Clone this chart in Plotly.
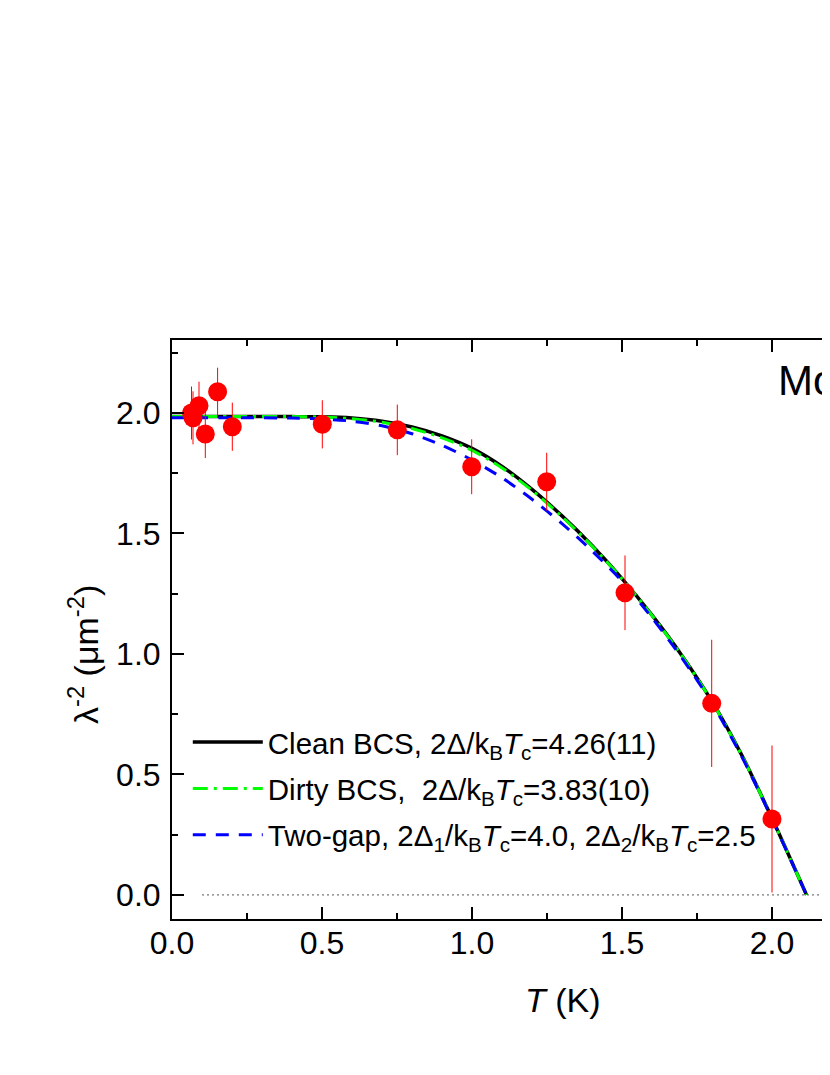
import plotly.graph_objects as go

# ---------------- data ----------------
T_data = [0.065, 0.07, 0.09, 0.111, 0.152, 0.201, 0.501, 0.751, 0.999, 1.249, 1.51, 1.799, 2.0, 2.2]
lam_data = [2.00, 1.98, 2.03, 1.913, 2.088, 1.943, 1.953, 1.93, 1.777, 1.715, 1.254, 0.795, 0.315, 0.0]
lam_err = [0.11, 0.11, 0.10, 0.10, 0.10, 0.10, 0.10, 0.105, 0.114, 0.12, 0.155, 0.264, 0.305, 0.0]

T_curve = [0.0, 0.2, 0.4, 0.5, 0.6, 0.7, 0.8, 0.9, 1.0, 1.1, 1.2, 1.3, 1.4, 1.5, 1.6, 1.7, 1.8, 1.9, 2.0, 2.115]
clean_bcs = [1.985, 1.985, 1.985, 1.984, 1.979, 1.966, 1.942, 1.905, 1.853, 1.778, 1.683, 1.573, 1.450, 1.313, 1.161, 0.993, 0.803, 0.578, 0.318, 0.0]
dirty_bcs = [1.985, 1.985, 1.985, 1.983, 1.976, 1.962, 1.936, 1.897, 1.845, 1.772, 1.679, 1.570, 1.448, 1.312, 1.160, 0.992, 0.802, 0.577, 0.317, 0.0]
two_gap = [1.980, 1.980, 1.979, 1.975, 1.966, 1.947, 1.914, 1.866, 1.805, 1.731, 1.642, 1.541, 1.428, 1.302, 1.150, 0.983, 0.795, 0.572, 0.315, 0.0]

zero_T = [0.1, 2.6]
zero_y = [0.0, 0.0]

legend_names = [
    "Clean BCS, 2Δ/k<sub>B</sub><i>T</i><sub>c</sub>=4.26(11)",
    "Dirty BCS,  2Δ/k<sub>B</sub><i>T</i><sub>c</sub>=3.83(10)",
    "Two-gap, 2Δ<sub>1</sub>/k<sub>B</sub><i>T</i><sub>c</sub>=4.0, 2Δ<sub>2</sub>/k<sub>B</sub><i>T</i><sub>c</sub>=2.5",
]

FONT = "Liberation Sans, Arial, sans-serif"

fig = go.Figure()

fig.add_trace(go.Scatter(x=zero_T, y=zero_y, mode="lines", showlegend=False,
                         line=dict(color="#555555", width=1, dash="2px,3px"), hoverinfo="skip"))

fig.add_trace(go.Scatter(x=T_curve, y=clean_bcs, mode="lines", name=legend_names[0], legendgroup="a",
                         line=dict(color="black", width=3.5, shape="spline", smoothing=0.8)))
fig.add_trace(go.Scatter(x=T_curve, y=dirty_bcs, mode="lines", name=legend_names[1], legendgroup="b",
                         line=dict(color="#00FF00", width=3, dash="15px,6px,3px,6px", shape="spline", smoothing=0.8)))
fig.add_trace(go.Scatter(x=T_curve, y=two_gap, mode="lines", name=legend_names[2], legendgroup="c",
                         line=dict(color="#0000FF", width=3, dash="13px,10px", shape="spline", smoothing=0.8)))

fig.add_trace(go.Scatter(x=T_data, y=lam_data, mode="markers", showlegend=False,
                         marker=dict(color="#FF0000", size=19, line=dict(width=0)),
                         error_y=dict(type="data", array=lam_err, color="#FF0000", thickness=1, width=0)))

# page body has an 8px margin: figure is sized/offset so the plot sits where the reference has it
fig.update_layout(
    width=822, height=1040, autosize=False,
    margin=dict(l=164, r=0, t=332, b=129),
    plot_bgcolor="white", paper_bgcolor="white",
    font=dict(family=FONT, color="black", size=32),
    showlegend=True,
    legend=dict(x=0.024, y=0.35, xanchor="left", yanchor="top",
                bgcolor="rgba(0,0,0,0)", font=dict(size=29.5, family=FONT),
                itemwidth=70, traceorder="grouped", tracegroupgap=5),
)

fig.update_xaxes(range=[0, 658 / 300], tick0=0, dtick=0.5, tickformat=".1f",
                 ticks="inside", ticklen=12, tickwidth=2, tickcolor="black",
                 showline=True, linewidth=2, linecolor="black", mirror="ticks",
                 showgrid=False, zeroline=False,
                 minor=dict(dtick=0.25, ticks="inside", ticklen=6, tickwidth=2, tickcolor="black"),
                 tickfont=dict(size=32, family=FONT), ticklabelstandoff=-5)
fig.update_yaxes(range=[-0.1, 2.303], tick0=0, dtick=0.5, tickformat=".1f",
                 ticks="inside", ticklen=12, tickwidth=2, tickcolor="black",
                 showline=True, linewidth=2, linecolor="black", mirror=False,
                 showgrid=False, zeroline=False,
                 minor=dict(dtick=0.25, ticks="inside", ticklen=6, tickwidth=2, tickcolor="black"),
                 tickfont=dict(size=32, family=FONT), ticklabelstandoff=3)

fig.add_annotation(text="<i>T</i> (K)", xref="paper", yref="paper",
                   x=(563 - 172) / 658, y=(919 - 1000) / 579, xanchor="center", yanchor="middle",
                   showarrow=False, font=dict(size=34, family=FONT))
fig.add_annotation(text="λ<sup>-2</sup> (μm<sup>-2</sup>)", xref="paper", yref="paper",
                   x=(83 - 172) / 658, y=(919 - 655) / 579, xanchor="center", yanchor="middle",
                   textangle=-90, showarrow=False, font=dict(size=34, family=FONT))
fig.add_annotation(text="Mo", xref="paper", yref="paper",
                   x=(776 - 172) / 658, y=(919 - 380) / 579, xanchor="left", yanchor="middle",
                   showarrow=False, font=dict(size=42, family=FONT))

fig.write_html("out.html")
